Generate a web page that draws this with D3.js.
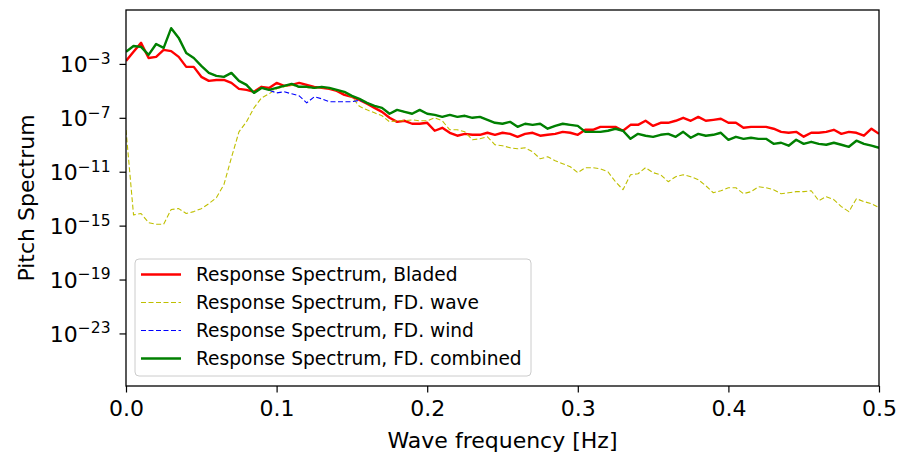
<!DOCTYPE html>
<html>
<head>
<meta charset="utf-8">
<script src="https://cdn.jsdelivr.net/npm/d3@7"></script>
<style>
  body { margin: 0; background: #fff; }
  svg text { font-family: "DejaVu Sans", sans-serif; fill: #000; }
</style>
</head>
<body>
<svg id="chart" width="902" height="455"></svg>
<script>
// DATA (frequency grid 0 .. 0.5 Hz, step 0.005; spectra stored as log10 values)
const freq = d3.range(101).map((i) => i * 0.005);

const bladedLog = [
  -2.78, -2.1, -1.44, -2.56, -2.48, -1.96, -2.05, -2.48, -3.22, -3.22,
  -3.96, -4.26, -4.19, -4.19, -4.41, -4.85, -4.93, -5.07, -4.7, -4.78,
  -4.41, -4.63, -4.56, -4.41, -4.56, -4.7, -4.78, -4.85, -5.0, -5.3,
  -5.44, -5.67, -5.96, -6.26, -6.56, -7.0, -7.3, -7.22, -7.44, -7.44,
  -7.37, -7.96, -7.74, -8.11, -8.33, -8.19, -8.26, -8.26, -8.11, -8.26,
  -8.11, -8.19, -8.41, -8.19, -8.11, -8.33, -8.26, -8.19, -8.04, -8.11,
  -8.26, -7.89, -7.89, -7.67, -7.67, -7.67, -7.96, -7.52, -7.52, -7.22,
  -7.6, -7.37, -7.37, -7.22, -7.0, -7.22, -6.93, -7.22, -7.15, -7.07,
  -7.37, -7.37, -7.74, -7.67, -7.67, -7.67, -7.81, -8.04, -8.11, -8.04,
  -8.4, -8.11, -8.11, -8.04, -7.89, -8.19, -8.04, -8.11, -8.33, -7.81,
  -8.19,
];

const waveLog = [
  -7.9, -14.2, -14.1, -14.78, -14.9, -14.9, -13.8, -13.74, -14.1, -13.96,
  -13.74, -13.37, -12.93, -11.96, -9.96, -8.04, -7.3, -6.26, -5.52, -5.22,
  -4.85, -4.7, -4.56, -4.75, -4.75, -4.82, -4.75, -4.82, -4.98, -5.12,
  -5.45, -6.15, -6.41, -6.63, -6.85, -7.3, -7.22, -7.22, -7.15, -7.22,
  -7.22, -7.0, -7.22, -7.89, -7.89, -8.04, -8.63, -8.56, -8.41, -9.0,
  -9.07, -9.22, -9.3, -9.22, -9.52, -10.04, -9.89, -10.19, -10.41, -10.63,
  -11.07, -10.7, -10.7, -10.78, -11.0, -11.74, -12.33, -11.22, -11.15, -10.7,
  -11.07, -11.22, -11.74, -11.37, -11.22, -11.37, -11.59, -12.04, -12.56, -12.41,
  -12.19, -12.19, -12.63, -12.48, -12.11, -12.19, -12.33, -12.63, -12.56, -12.48,
  -12.48, -12.41, -13.15, -12.85, -13.07, -13.59, -13.96, -13.0, -13.22, -13.37,
  -13.67,
];

const windLog = [
  -2.1, -1.67, -1.74, -2.33, -1.52, -1.81, -0.35, -1.07, -2.19, -2.56,
  -3.15, -3.67, -3.89, -3.96, -3.67, -4.26, -4.56, -5.15, -4.78, -4.95,
  -5.15, -5.07, -5.22, -5.37, -5.89, -5.44, -5.59, -5.81, -5.81, -5.81,
  -5.81, -5.7, -5.89, -6.11, -6.26, -6.7, -6.41, -6.56, -6.7, -6.41,
  -6.7, -6.78, -6.93, -6.78, -6.93, -6.85, -7.0, -6.93, -7.15, -7.37,
  -7.44, -7.3, -7.67, -7.44, -7.52, -7.44, -7.81, -7.6, -7.44, -7.52,
  -7.6, -8.04, -8.04, -8.04, -7.96, -7.81, -7.96, -8.56, -8.19, -8.33,
  -8.41, -8.26, -8.19, -8.41, -8.04, -8.48, -8.19, -8.33, -8.26, -8.11,
  -8.63, -8.41, -8.56, -8.48, -8.56, -8.56, -8.93, -8.85, -9.07, -8.63,
  -8.93, -8.78, -8.93, -9.0, -8.85, -9.0, -9.15, -8.7, -8.93, -9.07,
  -9.22,
];

const combinedLog = [
  -2.1, -1.67, -1.74, -2.33, -1.52, -1.81, -0.35, -1.07, -2.19, -2.56,
  -3.15, -3.67, -3.89, -3.96, -3.67, -4.26, -4.56, -5.15, -4.78, -4.93,
  -4.78, -4.63, -4.48, -4.7, -4.7, -4.78, -4.7, -4.78, -4.93, -5.07,
  -5.37, -5.59, -5.89, -6.11, -6.26, -6.7, -6.41, -6.56, -6.7, -6.41,
  -6.7, -6.78, -6.93, -6.78, -6.93, -6.85, -7.0, -6.93, -7.15, -7.37,
  -7.44, -7.3, -7.67, -7.44, -7.52, -7.44, -7.81, -7.6, -7.44, -7.52,
  -7.6, -8.04, -8.04, -8.04, -7.96, -7.81, -7.96, -8.56, -8.19, -8.33,
  -8.41, -8.26, -8.19, -8.41, -8.04, -8.48, -8.19, -8.33, -8.26, -8.11,
  -8.63, -8.41, -8.56, -8.48, -8.56, -8.56, -8.93, -8.85, -9.07, -8.63,
  -8.93, -8.78, -8.93, -9.0, -8.85, -9.0, -9.15, -8.7, -8.93, -9.07,
  -9.22,
];

const seriesNames = [
  "Response Spectrum, Bladed",
  "Response Spectrum, FD. wave",
  "Response Spectrum, FD. wind",
  "Response Spectrum, FD. combined",
];
const xTicks = [0, 0.1, 0.2, 0.3, 0.4, 0.5];
const yTickExps = [-3, -7, -11, -15, -19, -23];

// CANVAS SETUP
const svg = d3.select("#chart");
const margin = { top: 10, right: 23, bottom: 69, left: 126 },
  width = +svg.attr("width") - margin.left - margin.right,
  height = +svg.attr("height") - margin.top - margin.bottom;

const g = svg.append("g").attr("transform", `translate(${margin.left},${margin.top})`);

const x = d3.scaleLinear().domain([0, 0.5]).range([0, width]);
const y = d3.scaleLog().domain([10 ** -26.9, 10 ** 1]).range([height, 0]);

const series = [
  { name: seriesNames[0], vals: bladedLog, color: "#ff0000", w: 2.4, dash: null },
  { name: seriesNames[1], vals: waveLog, color: "#bfbf00", w: 1.1, dash: "5,2.5" },
  { name: seriesNames[2], vals: windLog, color: "#0000ff", w: 1.1, dash: "5,2.5" },
  { name: seriesNames[3], vals: combinedLog, color: "#008000", w: 2.4, dash: null },
];
series.forEach((s) => {
  s.points = s.vals.map((v, i) => [freq[i], 10 ** v]);
});

svg.append("defs").append("clipPath").attr("id", "clip")
  .append("rect").attr("width", width).attr("height", height);

const line = d3.line().x((d) => x(d[0])).y((d) => y(d[1]));

g.append("g").attr("clip-path", "url(#clip)")
  .selectAll("path")
  .data(series)
  .join("path")
  .attr("d", (d) => line(d.points))
  .attr("fill", "none")
  .attr("stroke", (d) => d.color)
  .attr("stroke-width", (d) => d.w)
  .attr("stroke-dasharray", (d) => d.dash)
  .attr("stroke-linejoin", "round");

// AXES
const gx = g.append("g")
  .attr("transform", `translate(0,${height})`)
  .call(d3.axisBottom(x).tickValues(xTicks).tickFormat(d3.format(".1f")).tickSize(6.5).tickPadding(8));

const gy = g.append("g")
  .call(d3.axisLeft(y).tickValues(yTickExps.map((e) => 10 ** e)).tickSize(6.5).tickPadding(9));

[gx, gy].forEach((a) => {
  a.select(".domain").remove();
  a.selectAll(".tick line").attr("stroke", "#000").attr("stroke-width", 1.2);
  a.selectAll(".tick text").attr("font-size", 22).attr("font-family", "DejaVu Sans");
});

gy.selectAll(".tick text")
  .attr("dy", "0.36em")
  .each(function (d) {
    const t = d3.select(this);
    t.text(null);
    t.append("tspan").text("10");
    t.append("tspan").attr("dy", -8.5).attr("font-size", 15.5)
      .text("\u2212" + Math.round(-Math.log10(d)));
  });

// frame
g.append("rect")
  .attr("width", width).attr("height", height)
  .attr("fill", "none").attr("stroke", "#000").attr("stroke-width", 1.3);

// labels
svg.append("text")
  .attr("x", margin.left + width / 2).attr("y", 448)
  .attr("text-anchor", "middle").attr("font-size", 22)
  .text("Wave frequency [Hz]");

svg.append("text")
  .attr("transform", `translate(34,${margin.top + height / 2}) rotate(-90)`)
  .attr("text-anchor", "middle").attr("font-size", 22)
  .text("Pitch Spectrum");

// LEGEND
const legend = svg.append("g").attr("transform", "translate(135,259)");
legend.append("rect")
  .attr("width", 396).attr("height", 117).attr("rx", 4)
  .attr("fill", "#fff").attr("fill-opacity", 0.8)
  .attr("stroke", "#cccccc").attr("stroke-width", 1);

const item = legend.selectAll("g.item")
  .data(series)
  .join("g")
  .attr("class", "item")
  .attr("transform", (d, i) => `translate(0,${15.5 + i * 28})`);

item.append("line")
  .attr("x1", 6).attr("x2", 46)
  .attr("stroke", (d) => d.color)
  .attr("stroke-width", (d) => d.w)
  .attr("stroke-dasharray", (d) => d.dash);

item.append("text")
  .attr("x", 61).attr("dy", "0.36em")
  .attr("font-size", 18.6)
  .text((d) => d.name);
</script>
</body>
</html>
